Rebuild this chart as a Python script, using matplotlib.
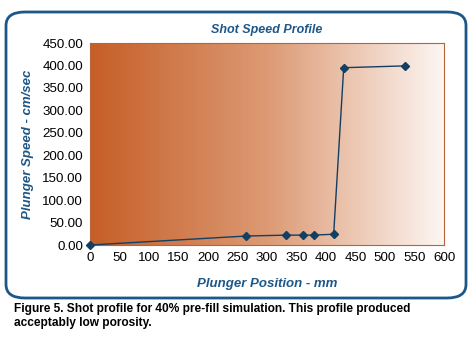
import matplotlib
matplotlib.use('Agg')
import matplotlib.pyplot as plt
import numpy as np
from matplotlib.colors import LinearSegmentedColormap
from matplotlib.patches import FancyBboxPatch

# plunger position (mm) vs plunger speed (cm/sec)
position = [0, 265, 333, 361, 379, 413, 430, 534]
speed = [0, 20, 22, 22, 22, 24, 395, 399]

x_ticks = list(range(0, 601, 50))
y_ticks = list(range(0, 451, 50))

BLUE = '#1d5787'
NAVY = '#123f62'

plt.rcParams['font.family'] = ['Liberation Sans', 'DejaVu Sans']

fig = plt.figure(figsize=(4.72, 3.38), dpi=100)

# rounded frame around the chart
frame = FancyBboxPatch((6 / 472, 1 - 298 / 338), 460 / 472, 286 / 338,
                       boxstyle='round,pad=0,rounding_size=0.04',
                       transform=fig.transFigure, facecolor='none',
                       edgecolor=BLUE, linewidth=2, zorder=5)
fig.patches.append(frame)

ax = fig.add_axes([90 / 472, 1 - 245 / 338, 354 / 472, 202 / 338])

grad = LinearSegmentedColormap.from_list('bg', ['#c65e27', '#dc9a74', '#fdf6f3'])
ax.imshow(np.linspace(0, 1, 256).reshape(1, -1), cmap=grad, aspect='auto',
          extent=[0, 600, 0, 450], zorder=0)

ax.plot(position, speed, color=NAVY, linewidth=1, marker='D', markersize=4,
        zorder=3, clip_on=False)

ax.set_xlim(0, 600)
ax.set_ylim(0, 450)
ax.set_xticks(x_ticks)
ax.set_yticks(y_ticks)
ax.set_yticklabels([f'{v:.2f}' for v in y_ticks])
ax.tick_params(length=0, labelsize=9.6, pad=5, colors='black')
for s in ax.spines.values():
    s.set_color('#b8643a')
    s.set_linewidth(0.8)

ax.set_title('Shot Speed Profile', fontsize=9, fontstyle='italic',
             fontweight='bold', color=BLUE, pad=7)
ax.set_xlabel('Plunger Position - mm', fontsize=9.5, fontstyle='italic',
              fontweight='bold', color=BLUE, labelpad=10)
ax.set_ylabel('Plunger Speed - cm/sec', fontsize=9.5, fontstyle='italic',
              fontweight='bold', color=BLUE, labelpad=6)

fig.text(14 / 472, 1 - 303 / 338,
         'Figure 5. Shot profile for 40% pre-fill simulation. This profile produced\n'
         'acceptably low porosity.',
         fontsize=8.6, fontweight='bold', va='top', ha='left', linespacing=1.25)

fig.savefig('out.png', dpi=100)
